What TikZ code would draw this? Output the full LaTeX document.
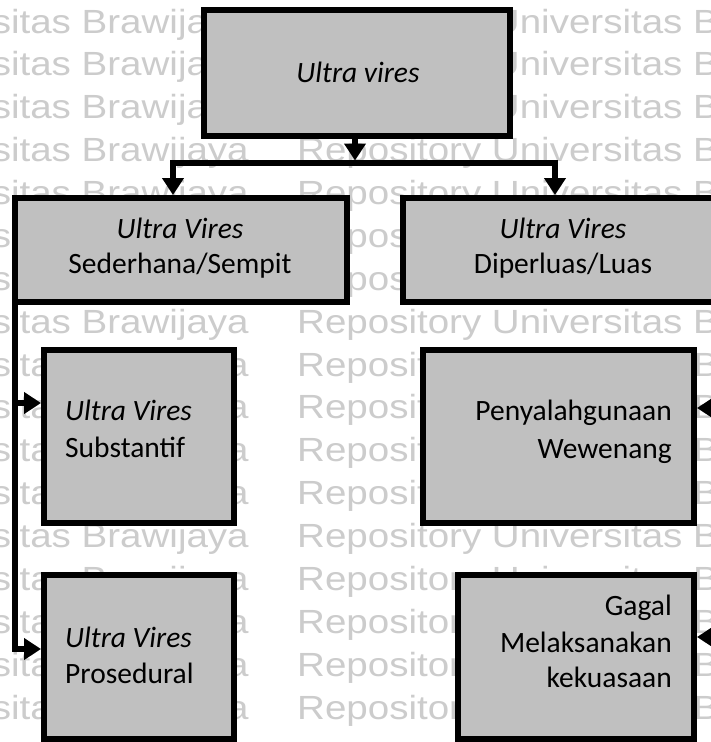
\documentclass[tikz,border=0pt]{standalone}
\usepackage{fontspec}
\setmainfont{Carlito}
\newfontfamily\wmfont[FakeStretch=1.15]{Liberation Sans}
\usetikzlibrary{arrows.meta}
\definecolor{boxgray}{RGB}{192,192,192}
\definecolor{wmgray}{RGB}{204,204,204}
\tikzset{
  box/.style={rectangle, draw=black, line width=6.5pt, fill=boxgray, inner sep=0pt, outer sep=0pt},
  conn/.style={draw=black, line width=5.5pt},
  arr/.style={-{Triangle[width=21pt,length=17pt]}},
  lbl/.style={font=\fontsize{29.5}{36}\selectfont, inner sep=0pt, text=black},
  wm/.style={font=\wmfont\fontsize{33.5}{40}\selectfont, inner sep=0pt, text=wmgray},
}
\begin{document}
\begin{tikzpicture}[x=1pt,y=-1pt]
\useasboundingbox (0,0) rectangle (711,742);
\clip (0,0) rectangle (711,742);
\fill[white] (0,0) rectangle (711,742);

% repository watermark rows
\foreach \i in {0,...,16}{
  \node[wm, anchor=base east] (wmA\i) at (249, 33+42.875*\i) {Repository Universitas Brawijaya};
  \node[wm, anchor=base west] (wmB\i) at (297, 33+42.875*\i) {Repository Universitas Brawijaya};
}

% boxes
\node[box, minimum width=306pt, minimum height=126pt] (top)   at (357,73)    {};
\node[box, minimum width=332pt, minimum height=104pt] (midL)  at (181,250)   {};
\node[box, minimum width=320pt, minimum height=104pt] (midR)  at (563,250)   {};
\node[box, minimum width=190pt, minimum height=173pt] (subst) at (139,436.5) {};
\node[box, minimum width=190pt, minimum height=164pt] (prose) at (139,657)   {};
\node[box, minimum width=271pt, minimum height=173pt] (penya) at (558.5,436.5) {};
\node[box, minimum width=236pt, minimum height=164pt] (gagal) at (576,657)   {};

% branching from the top box
\coordinate (busC) at (355,163);
\coordinate (busL) at (173,163);
\coordinate (busR) at (555,163);
\draw[conn, line cap=rect] (busL) -- (busR);
\draw[conn, arr] (busC |- top.south) -- ([yshift=2.5pt]busC);
\draw[conn, arr, shorten >=3pt] (busL) -- (busL |- midL.north);
\draw[conn, arr, shorten >=3pt] (busR) -- (busR |- midR.north);

% left spine
\coordinate (jS) at (15,403);
\coordinate (jP) at (15,649);
\draw[conn, arr, shorten >=3pt] (midL.south west) -- (jP) -- (jP -| prose.west);
\draw[conn, arr, shorten >=3pt] (jS) -- (jS -| subst.west);

% right spine
\coordinate (jW) at (723,408);
\coordinate (jG) at (723,637);
\draw[conn, arr, shorten >=3pt] (midR.south east) -- (jG) -- (jG -| gagal.east);
\draw[conn, arr, shorten >=3pt] (jW) -- (jW -| penya.east);

% labels
\node[lbl, anchor=base] (tTop) at (358,82) {\itshape Ultra vires};
\node[lbl, anchor=base] (tL1) at (180,238) {\itshape Ultra Vires};
\node[lbl, anchor=base] (tL2) at (180,273) {Sederhana/Sempit};
\node[lbl, anchor=base] (tR1) at (563,238) {\itshape Ultra Vires};
\node[lbl, anchor=base] (tR2) at (563,273) {Diperluas/Luas};
\node[lbl, anchor=base west] (tS1) at (65,420) {\itshape Ultra Vires};
\node[lbl, anchor=base west] (tS2) at (65,457) {Substantif};
\node[lbl, anchor=base west] (tP1) at (65,647) {\itshape Ultra Vires};
\node[lbl, anchor=base west] (tP2) at (65,683) {Prosedural};
\node[lbl, anchor=base east] (tW1) at (672,420) {Penyalahgunaan};
\node[lbl, anchor=base east] (tW2) at (672,458) {Wewenang};
\node[lbl, anchor=base east] (tG1) at (672,615) {Gagal};
\node[lbl, anchor=base east] (tG2) at (672,652) {Melaksanakan};
\node[lbl, anchor=base east] (tG3) at (672,687) {kekuasaan};
\end{tikzpicture}
\end{document}
